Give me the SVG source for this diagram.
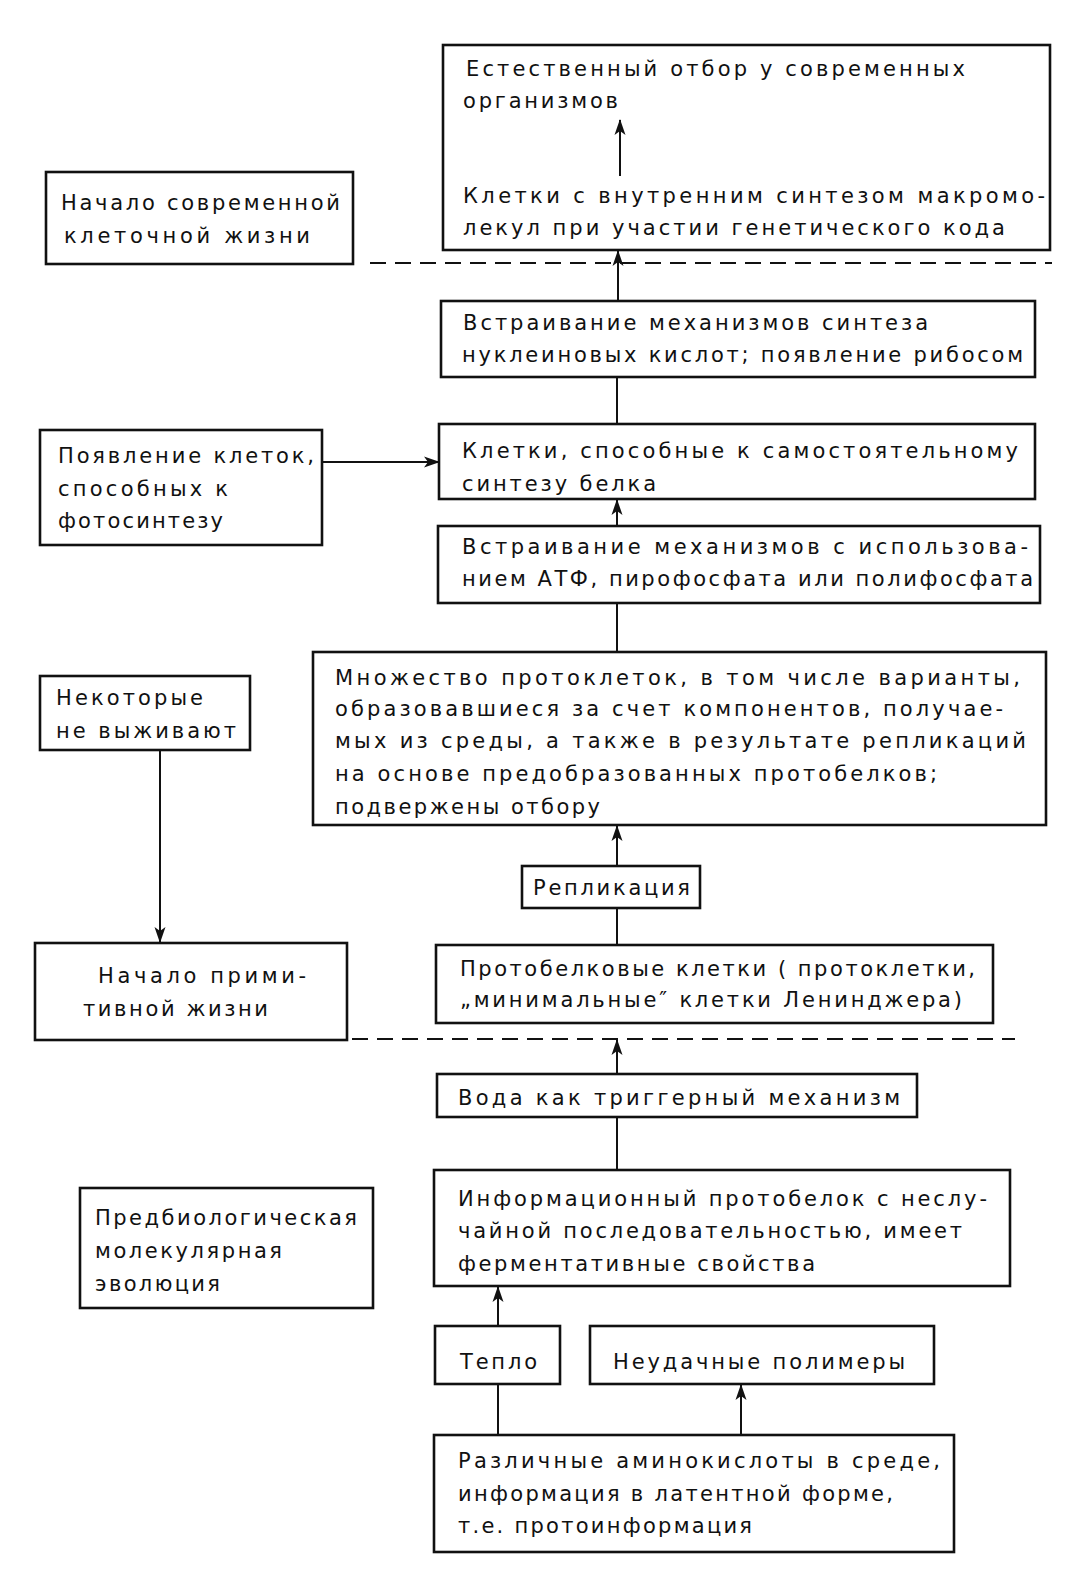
<svg xmlns="http://www.w3.org/2000/svg" width="1070" height="1570" viewBox="0 0 1070 1570">
<style>
.b{fill:#fff;stroke:#111;stroke-width:2.6}
text{font-family:"DejaVu Sans","Liberation Sans",sans-serif;font-size:21px;fill:#111}
.c{stroke:#111;stroke-width:2;fill:none}
.d{stroke:#111;stroke-width:2;fill:none;stroke-dasharray:16 9}
</style>
<defs>
<marker id="a" markerWidth="16" markerHeight="12" refX="15" refY="6" orient="auto" markerUnits="userSpaceOnUse">
<path d="M0,0.5 L16,6 L0,11.5 L4,6 Z" fill="#111"/>
</marker>
</defs>
<rect width="1070" height="1570" fill="#fff"/>
<g id="n1"><rect class="b" x="443" y="45" width="607" height="205"/>
<text x="466" y="76" textLength="499" lengthAdjust="spacing">Естественный отбор у современных</text>
<text x="463" y="108" textLength="155" lengthAdjust="spacing">организмов</text>
<text x="463" y="203" textLength="582" lengthAdjust="spacing">Клетки с внутренним синтезом макромо-</text>
<text x="463" y="235" textLength="542" lengthAdjust="spacing">лекул при участии генетического кода</text></g>
<g id="n2"><rect class="b" x="46" y="172" width="307" height="92"/>
<text x="61" y="210" textLength="279" lengthAdjust="spacing">Начало современной</text>
<text x="64" y="243" textLength="246" lengthAdjust="spacing">клеточной  жизни</text></g>
<g id="n3"><rect class="b" x="441" y="301" width="594" height="76"/>
<text x="463" y="330" textLength="465" lengthAdjust="spacing">Встраивание механизмов синтеза</text>
<text x="462" y="362" textLength="561" lengthAdjust="spacing">нуклеиновых кислот; появление рибосом</text></g>
<g id="n4"><rect class="b" x="439" y="424" width="596" height="75"/>
<text x="462" y="458" textLength="556" lengthAdjust="spacing">Клетки, способные к самостоятельному</text>
<text x="462" y="491" textLength="194" lengthAdjust="spacing">синтезу белка</text></g>
<g id="n5"><rect class="b" x="40" y="430" width="282" height="115"/>
<text x="58" y="463" textLength="256" lengthAdjust="spacing">Появление клеток,</text>
<text x="58" y="496" textLength="170" lengthAdjust="spacing">способных к</text>
<text x="58" y="528" textLength="165" lengthAdjust="spacing">фотосинтезу</text></g>
<g id="n6"><rect class="b" x="438" y="526" width="602" height="77"/>
<text x="462" y="554" textLength="566" lengthAdjust="spacing">Встраивание механизмов с использова-</text>
<text x="462" y="586" textLength="571" lengthAdjust="spacing">нием АТФ, пирофосфата или полифосфата</text></g>
<g id="n7"><rect class="b" x="313" y="652" width="733" height="173"/>
<text x="335" y="685" textLength="685" lengthAdjust="spacing">Множество протоклеток, в том числе варианты,</text>
<text x="335" y="716" textLength="668" lengthAdjust="spacing">образовавшиеся за счет компонентов, получае-</text>
<text x="335" y="748" textLength="691" lengthAdjust="spacing">мых из среды, а также в результате репликаций</text>
<text x="335" y="781" textLength="602" lengthAdjust="spacing">на  основе предобразованных протобелков;</text>
<text x="335" y="814" textLength="265" lengthAdjust="spacing">подвержены отбору</text></g>
<g id="n8"><rect class="b" x="40" y="676" width="210" height="74"/>
<text x="56" y="705" textLength="147" lengthAdjust="spacing">Некоторые</text>
<text x="56" y="738" textLength="180" lengthAdjust="spacing">не выживают</text></g>
<g id="n9"><rect class="b" x="522" y="866" width="178" height="42"/>
<text x="533" y="895" textLength="157" lengthAdjust="spacing">Репликация</text></g>
<g id="n10"><rect class="b" x="35" y="943" width="312" height="97"/>
<text x="98" y="983" textLength="208" lengthAdjust="spacing">Начало прими-</text>
<text x="83" y="1016" textLength="185" lengthAdjust="spacing">тивной жизни</text></g>
<g id="n11"><rect class="b" x="436" y="945" width="557" height="78"/>
<text x="460" y="976" textLength="515" lengthAdjust="spacing">Протобелковые клетки ( протоклетки,</text>
<text x="460" y="1007" textLength="502" lengthAdjust="spacing">„минимальные″ клетки Ленинджера)</text></g>
<g id="n12"><rect class="b" x="437" y="1074" width="480" height="43"/>
<text x="458" y="1105" textLength="442" lengthAdjust="spacing">Вода как триггерный механизм</text></g>
<g id="n13"><rect class="b" x="434" y="1170" width="576" height="116"/>
<text x="458" y="1206" textLength="529" lengthAdjust="spacing">Информационный протобелок с неслу-</text>
<text x="458" y="1238" textLength="504" lengthAdjust="spacing">чайной последовательностью, имеет</text>
<text x="458" y="1271" textLength="357" lengthAdjust="spacing">ферментативные свойства</text></g>
<g id="n14"><rect class="b" x="80" y="1188" width="293" height="120"/>
<text x="95" y="1225" textLength="262" lengthAdjust="spacing">Предбиологическая</text>
<text x="95" y="1258" textLength="187" lengthAdjust="spacing">молекулярная</text>
<text x="95" y="1291" textLength="125" lengthAdjust="spacing">эволюция</text></g>
<g id="n15"><rect class="b" x="435" y="1326" width="125" height="58"/>
<text x="460" y="1369" textLength="77" lengthAdjust="spacing">Тепло</text></g>
<g id="n16"><rect class="b" x="590" y="1326" width="344" height="58"/>
<text x="613" y="1369" textLength="292" lengthAdjust="spacing">Неудачные полимеры</text></g>
<g id="n17"><rect class="b" x="434" y="1435" width="520" height="117"/>
<text x="458" y="1468" textLength="482" lengthAdjust="spacing">Различные аминокислоты в среде,</text>
<text x="458" y="1501" textLength="435" lengthAdjust="spacing">информация в латентной форме,</text>
<text x="458" y="1533" textLength="294" lengthAdjust="spacing">т.е. протоинформация</text></g>
<g id="connectors">
<line class="d" x1="370" y1="263" x2="1052" y2="263"/>
<line class="d" x1="352" y1="1039" x2="1015" y2="1039"/>
<line class="c" x1="620" y1="176" x2="620" y2="120" marker-end="url(#a)"/>
<line class="c" x1="618" y1="301" x2="618" y2="251" marker-end="url(#a)"/>
<line class="c" x1="617" y1="377" x2="617" y2="424"/>
<line class="c" x1="322" y1="462" x2="439" y2="462" marker-end="url(#a)"/>
<line class="c" x1="617" y1="526" x2="617" y2="500" marker-end="url(#a)"/>
<line class="c" x1="617" y1="603" x2="617" y2="652"/>
<line class="c" x1="160" y1="750" x2="160" y2="942" marker-end="url(#a)"/>
<line class="c" x1="617" y1="866" x2="617" y2="826" marker-end="url(#a)"/>
<line class="c" x1="617" y1="908" x2="617" y2="945"/>
<line class="c" x1="617" y1="1074" x2="617" y2="1040" marker-end="url(#a)"/>
<line class="c" x1="617" y1="1117" x2="617" y2="1170"/>
<line class="c" x1="498" y1="1326" x2="498" y2="1287" marker-end="url(#a)"/>
<line class="c" x1="498" y1="1435" x2="498" y2="1384"/>
<line class="c" x1="741" y1="1435" x2="741" y2="1385" marker-end="url(#a)"/>
</g>
</svg>
